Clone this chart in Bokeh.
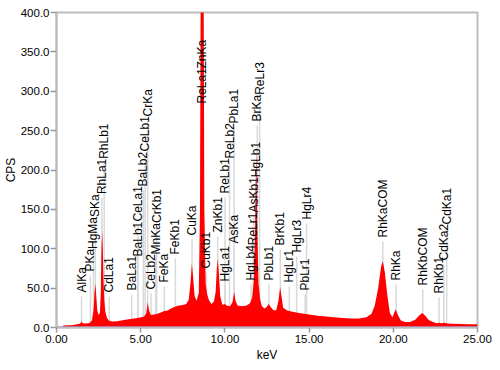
from math import pi
from bokeh.plotting import figure
from bokeh.models import Range1d, PrintfTickFormatter, FixedTicker
from bokeh.embed import file_html
from bokeh.resources import INLINE
from bokeh.core.properties import value

# ---- spectrum (keV, CPS) ----
energy = [0.38, 0.40, 0.60, 0.80, 1.00, 1.20, 1.35, 1.44, 1.49, 1.55, 1.70, 1.90, 2.00,
          2.10, 2.20, 2.26, 2.31, 2.36, 2.42, 2.50, 2.58, 2.63, 2.67, 2.71, 2.75, 2.79,
          2.84, 2.90, 3.00, 3.10, 3.30, 3.60, 4.00, 4.30, 4.60, 4.90, 5.20, 5.33, 5.42,
          5.49, 5.60, 5.80, 6.00, 6.20, 6.40, 6.60, 6.80, 7.00, 7.20, 7.50, 7.70, 7.85,
          7.95, 8.04, 8.11, 8.20, 8.32, 8.45, 8.52, 8.56, 8.58, 8.66, 8.72, 8.74, 8.78,
          8.86, 8.95, 9.05, 9.20, 9.35, 9.45, 9.52, 9.58, 9.64, 9.72, 9.85, 10.00, 10.10,
          10.30, 10.45, 10.55, 10.63, 10.75, 11.00, 11.30, 11.50, 11.62, 11.72, 11.80,
          11.86, 11.92, 12.00, 12.10, 12.20, 12.35, 12.48, 12.60, 12.72, 12.88, 13.05,
          13.18, 13.28, 13.36, 13.46, 13.70, 14.00, 14.50, 15.00, 15.50, 16.00, 16.50,
          17.00, 17.50, 18.00, 18.40, 18.70, 18.90, 19.10, 19.28, 19.38, 19.50, 19.65,
          19.80, 19.95, 20.08, 20.15, 20.27, 20.45, 20.70, 21.00, 21.30, 21.55, 21.72,
          21.90, 22.10, 22.35, 22.60, 22.72, 22.85, 23.05, 23.20, 23.50, 24.00, 24.50,
          25.00]
cps = [0.0, 2.5, 2.8, 3.0, 3.3, 4.0, 4.6, 6.0, 7.5, 5.5, 5.0, 5.5, 6.5,
       9.0, 22.0, 45.0, 56.0, 40.0, 22.0, 16.0, 19.0, 45.0, 100.0, 123.0, 100.0, 60.0,
       34.0, 20.0, 12.0, 9.0, 7.5, 8.0, 9.5, 10.5, 11.5, 12.5, 14.0, 18.0, 32.0,
       22.0, 16.0, 16.5, 17.5, 19.0, 21.0, 21.5, 24.0, 26.0, 27.5, 28.5, 30.0, 35.0,
       55.0, 81.0, 65.0, 40.0, 34.0, 44.0, 150.0, 420.0, 900.0, 1000.0, 900.0, 420.0, 150.0,
       55.0, 42.0, 35.0, 30.0, 33.0, 45.0, 75.0, 87.0, 70.0, 40.0, 29.0, 30.0, 28.0,
       27.0, 32.0, 45.0, 34.0, 28.0, 27.0, 28.0, 31.0, 38.0, 60.0, 130.0,
       229.0, 130.0, 55.0, 35.0, 27.0, 24.0, 26.0, 30.0, 26.0, 22.0, 22.0,
       34.0, 51.0, 40.0, 25.0, 21.5, 20.0, 18.0, 16.5, 15.0, 14.0, 13.0,
       12.0, 11.5, 11.5, 13.0, 17.0, 28.0, 50.0, 78.0, 84.0, 70.0, 40.0,
       18.0, 13.0, 20.0, 23.0, 16.0, 9.0, 7.0, 7.0, 10.0, 15.5, 18.5,
       15.0, 9.5, 7.0, 5.5, 6.0, 5.5, 6.0, 5.0, 4.8, 4.5, 4.2,
       4.0]

# ---- identified lines ----
line_names = ["AlKa", "PKa", "HgMa", "SKa", "RhLa1", "RhLb1", "CdLa1",
              "BaLa1", "BaLb1", "CeLa1", "BaLb2", "CeLb1", "CrKa",
              "CeLb2", "MnKa", "CrKb1", "FeKa", "FeKb1", "CuKa",
              "ReLa1", "ZnKa", "CuKb1", "ZnKb1", "HgLa1", "ReLb1", "ReLb2", "PbLa1",
              "AsKa", "HgLb4", "ReLr1", "AsKb1", "HgLb1", "BrKa", "ReLr3",
              "PbLb1", "BrKb1", "HgLr1", "HgLr3", "PbLr1", "HgLr4",
              "RhKaCOM", "RhKa", "RhKbCOM", "RhKb1", "CdKa2", "CdKa1"]
line_energy = [1.486, 2.013, 2.195, 2.307, 2.697, 2.834, 3.134,
               4.466, 4.828, 4.840, 5.156, 5.262, 5.414,
               5.613, 5.899, 5.947, 6.404, 7.058, 8.048,
               8.652, 8.639, 8.905, 9.572, 9.989, 10.010, 10.275, 10.551,
               10.543, 11.560, 11.685, 11.726, 11.823, 11.924, 12.060,
               12.614, 13.291, 13.830, 14.260, 14.765, 14.850,
               19.380, 20.170, 21.750, 22.720, 23.000, 23.170]
# CPS level at which each label's text starts
label_base = [44.4, 71.1, 99.7, 140.3, 169.4, 214.2, 44.4,
              47.0, 90.2, 134.6, 179.0, 223.5, 268.0,
              48.3, 92.7, 132.7, 57.1, 92.7, 116.8,
              284.4, 328.9, 74.9, 120.6, 58.4, 170.2, 214.6, 259.0,
              106.7, 59.7, 104.5, 146.0, 190.9, 261.6, 295.5,
              59.7, 104.1, 57.1, 95.2, 47.0, 137.1,
              114.3, 59.7, 53.3, 43.2, 85.1, 130.8]

x_ticks = [0, 5, 10, 15, 20, 25]
y_ticks = [0, 50, 100, 150, 200, 250, 300, 350, 400]

FONT = "Liberation Sans"

p = figure(width=500, height=370, x_range=Range1d(0, 25), y_range=Range1d(0, 400),
           output_backend="svg", toolbar_location=None,
           min_border_left=55, min_border_right=23, min_border_top=12, min_border_bottom=43,
           x_axis_label="keV", y_axis_label="CPS")
p.xgrid.visible = False
p.ygrid.visible = False
p.background_fill_color = "white"
p.border_fill_color = "white"
p.outline_line_color = "#bdbdbd"
p.outline_line_width = 2

# marker lines for identified peaks (under the spectrum)
line_tops = [b - 5 for b in label_base]
p.segment(x0=line_energy, y0=[0] * len(line_energy), x1=line_energy, y1=line_tops,
          line_color="#d9d9d9", line_width=1.5)

# spectrum
p.varea(x=energy, y1=[0] * len(energy), y2=cps, fill_color="#ff0000")

# baseline
p.line(x=[x_ticks[0], x_ticks[-1]], y=[0, 0], line_color="#9944ee", line_width=2)

# peak labels
p.text(x=line_energy, y=label_base, text=line_names, angle=pi / 2,
       text_align="left", text_baseline="middle",
       text_font=value(FONT), text_font_size="12px", text_color="black")

for ax in (p.xaxis, p.yaxis):
    ax.axis_line_color = "#bdbdbd"
    ax.axis_line_width = 2
    ax.major_tick_line_color = "#999999"
    ax.major_tick_line_width = 1.5
    ax.major_tick_in = 0
    ax.minor_tick_line_color = None
    ax.major_label_text_font = FONT
    ax.major_label_text_font_size = "11.5px"
    ax.major_label_text_color = "black"
    ax.axis_label_text_font = FONT
    ax.axis_label_text_font_size = "12px"
    ax.axis_label_text_font_style = "normal"
    ax.axis_label_text_color = "black"

p.xaxis.ticker = FixedTicker(ticks=x_ticks)
p.xaxis.formatter = PrintfTickFormatter(format="%.2f")
p.xaxis.major_tick_out = 5
p.xaxis.major_label_standoff = 2
p.xaxis.axis_label_standoff = 2
p.yaxis.ticker = FixedTicker(ticks=y_ticks)
p.yaxis.formatter = PrintfTickFormatter(format="%.1f")
p.yaxis.major_tick_out = 6
p.yaxis.major_label_standoff = 1
p.yaxis.axis_label_standoff = 0

open("out.html", "w").write(file_html(p, INLINE))
